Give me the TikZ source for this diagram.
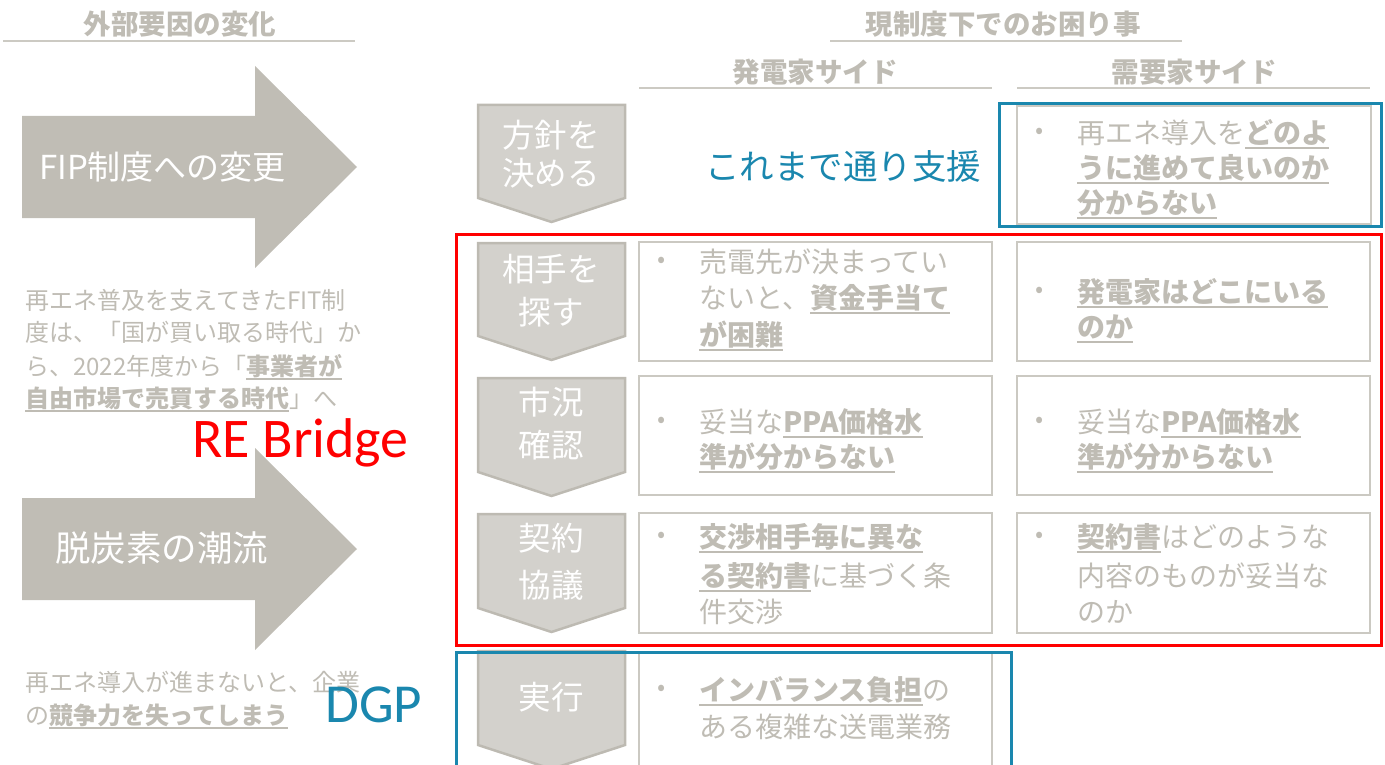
\documentclass[tikz,border=0pt]{standalone}
\usepackage{fontspec}
\setmainfont{Noto Sans CJK JP}
\newfontfamily\latinfont{Carlito}
\definecolor{arrowgray}{HTML}{C0BDB5}
\definecolor{pentfill}{HTML}{D3D1CC}
\definecolor{pentedge}{HTML}{BDBAB2}
\definecolor{txtgray}{HTML}{BFBCB4}
\definecolor{linegray}{HTML}{CCCAC3}
\definecolor{boxgray}{HTML}{CBC9C2}
\definecolor{dgpblue}{HTML}{1A87AE}
\definecolor{rered}{HTML}{FF0000}
\newcommand{\ulx}[1]{\textbf{\setbox0=\hbox{#1}\rlap{\rule[-0.2em]{\wd0}{0.07em}}\box0}}
\tikzset{
  hdr/.style={inner sep=0pt, text=txtgray, font=\fontsize{27.5}{27.5}\selectfont\bfseries, text height=24.2pt, text depth=3.3pt},
  hline/.style={draw=linegray, line width=1.5pt},
  bigarrow/.style={fill=arrowgray},
  pentbox/.style={draw=pentedge, fill=pentfill, line width=2.5pt, line join=miter},
  penttext/.style={inner sep=0pt, text=white, font=\fontsize{32.5}{32.5}\selectfont, text height=28.6pt, text depth=3.9pt},
  para/.style={anchor=west, inner sep=0pt, text=txtgray, font=\fontsize{24}{24}\selectfont, text height=21.1pt, text depth=2.9pt},
  cell/.style={draw=boxgray, line width=1.5pt},
  celltext/.style={anchor=west, inner sep=0pt, text=txtgray, font=\fontsize{28}{28}\selectfont, text height=24.6pt, text depth=3.4pt},
  bul/.style={inner sep=0pt, text=txtgray, font=\fontsize{24}{24}\selectfont},
  redframe/.style={draw=rered, line width=3pt},
  blueframe/.style={draw=dgpblue, line width=3pt},
}
\begin{document}
\begin{tikzpicture}[x=1pt,y=-1pt]
\useasboundingbox (0,0) rectangle (1385,765);
\clip (0,0) rectangle (1385,765);

% ---------- left column ----------
\node[hdr] (hleft) at (180,24) {外部要因の変化};
\draw[hline] (3,41) -- (355,41);

\fill[bigarrow] (22,116) -- (255,116) -- (255,66) -- (357,167) -- (255,268) -- (255,218) -- (22,218) -- cycle;
\node[anchor=west, inner sep=0pt, text=white, font=\fontsize{33}{33}\selectfont, text height=29pt, text depth=4pt] (fip) at (39,167) {FIP制度への変更};

\node[para] (p1a) at (25,300) {再エネ普及を支えてきたFIT制};
\node[para] (p1b) at (25,332) {度は、「国が買い取る時代」か};
\node[para] (p1c) at (25,366) {ら、2022年度から「\ulx{事業者が}};
\node[para] (p1d) at (25,398) {\ulx{自由市場で売買する時代}」へ};

\fill[bigarrow] (22,498) -- (255,498) -- (255,448) -- (357,549) -- (255,650) -- (255,600) -- (22,600) -- cycle;
\node[anchor=west, inner sep=0pt, text=white, font=\fontsize{35.5}{35.5}\selectfont, text height=31.2pt, text depth=4.3pt] (dec) at (55,548) {脱炭素の潮流};

\node[para] (p2a) at (25,682) {再エネ導入が進まないと、企業};
\node[para] (p2b) at (25,715) {の\ulx{競争力を失ってしまう}};

\node[anchor=base west, inner sep=0pt, text=rered, font=\latinfont\fontsize{56}{56}\selectfont] (rebridge) at (192,457) {RE Bridge};
\node[anchor=base west, inner sep=0pt, text=dgpblue, font=\latinfont\fontsize{55}{55}\selectfont] (dgp) at (325,722) {DGP};

% ---------- right headers ----------
\node[hdr] (hright) at (1003,24) {現制度下でのお困り事};
\draw[hline] (830,41) -- (1182,41);
\node[hdr] (hgen) at (815,72) {発電家サイド};
\draw[hline] (639,88) -- (992,88);
\node[hdr] (hdem) at (1194,72) {需要家サイド};
\draw[hline] (1017,88) -- (1370,88);

% ---------- pentagons ----------
\draw[pentbox] (478,105) -- (625,105) -- (625,198) -- (551.5,222) -- (478,198) -- cycle;
\draw[pentbox] (478,243) -- (625,243) -- (625,336) -- (551.5,360) -- (478,336) -- cycle;
\draw[pentbox] (478,378) -- (625,378) -- (625,472) -- (551.5,496) -- (478,472) -- cycle;
\draw[pentbox] (478,514) -- (625,514) -- (625,608) -- (551.5,632) -- (478,608) -- cycle;
\draw[pentbox] (478,651) -- (625,651) -- (625,745) -- (551.5,769) -- (478,745) -- cycle;

\node[penttext] (s0a) at (551,135) {方針を};
\node[penttext] (s0b) at (551,173) {決める};
\node[penttext] (s1a) at (551,269) {相手を};
\node[penttext] (s1b) at (551,312) {探す};
\node[penttext] (s2a) at (551,402) {市況};
\node[penttext] (s2b) at (551,445) {確認};
\node[penttext] (s3a) at (551,538) {契約};
\node[penttext] (s3b) at (551,585) {協議};
\node[penttext] (s4a) at (551,697) {実行};

% ---------- row 0 ----------
\node[anchor=center, inner sep=0pt, text=dgpblue, font=\fontsize{34.5}{34.5}\selectfont, text height=30.4pt, text depth=4.1pt] (support) at (843,166) {これまで通り支援};
\draw[cell] (1017,106) rectangle (1371,224);
\node[bul] (b01) at (1040,133) {•};
\node[celltext] (t01a) at (1077,133) {再エネ導入を\ulx{どのよ}};
\node[celltext] (t01b) at (1077,168) {\ulx{うに進めて良いのか}};
\node[celltext] (t01c) at (1077,203) {\ulx{分からない}};

% ---------- row 1 ----------
\draw[cell] (639,242) rectangle (992,361);
\draw[cell] (1017,242) rectangle (1370,361);
\node[bul] (b11) at (662,262) {•};
\node[celltext] (t11a) at (699,262) {売電先が決まってい};
\node[celltext] (t11b) at (699,298) {ないと、\ulx{資金手当て}};
\node[celltext] (t11c) at (699,335) {\ulx{が困難}};
\node[bul] (b12) at (1040,292) {•};
\node[celltext] (t12a) at (1077,292) {\ulx{発電家はどこにいる}};
\node[celltext] (t12b) at (1077,327) {\ulx{のか}};

% ---------- row 2 ----------
\draw[cell] (639,376) rectangle (992,495);
\draw[cell] (1017,376) rectangle (1370,495);
\node[bul] (b21) at (662,422) {•};
\node[celltext] (t21a) at (699,422) {妥当な\ulx{PPA価格水}};
\node[celltext] (t21b) at (699,457) {\ulx{準が分からない}};
\node[bul] (b22) at (1040,422) {•};
\node[celltext] (t22a) at (1077,422) {妥当な\ulx{PPA価格水}};
\node[celltext] (t22b) at (1077,457) {\ulx{準が分からない}};

% ---------- row 3 ----------
\draw[cell] (639,513) rectangle (992,633);
\draw[cell] (1017,513) rectangle (1370,633);
\node[bul] (b31) at (662,537) {•};
\node[celltext] (t31a) at (699,537) {\ulx{交渉相手毎に異な}};
\node[celltext] (t31b) at (699,576) {\ulx{る契約書}に基づく条};
\node[celltext] (t31c) at (699,612) {件交渉};
\node[bul] (b32) at (1040,537) {•};
\node[celltext] (t32a) at (1077,537) {\ulx{契約書}はどのような};
\node[celltext] (t32b) at (1077,576) {内容のものが妥当な};
\node[celltext] (t32c) at (1077,612) {のか};

% ---------- row 4 ----------
\draw[cell] (639,653) rectangle (992,790);
\node[bul] (b41) at (662,690) {•};
\node[celltext] (t41a) at (699,690) {\ulx{インバランス負担}の};
\node[celltext] (t41b) at (699,727) {ある複雑な送電業務};

% ---------- frames ----------
\draw[redframe] (456,234) rectangle (1381,645);
\draw[blueframe] (999,104) rectangle (1381,226);
\draw[blueframe] (456,652) rectangle (1011,800);
\end{tikzpicture}
\end{document}
